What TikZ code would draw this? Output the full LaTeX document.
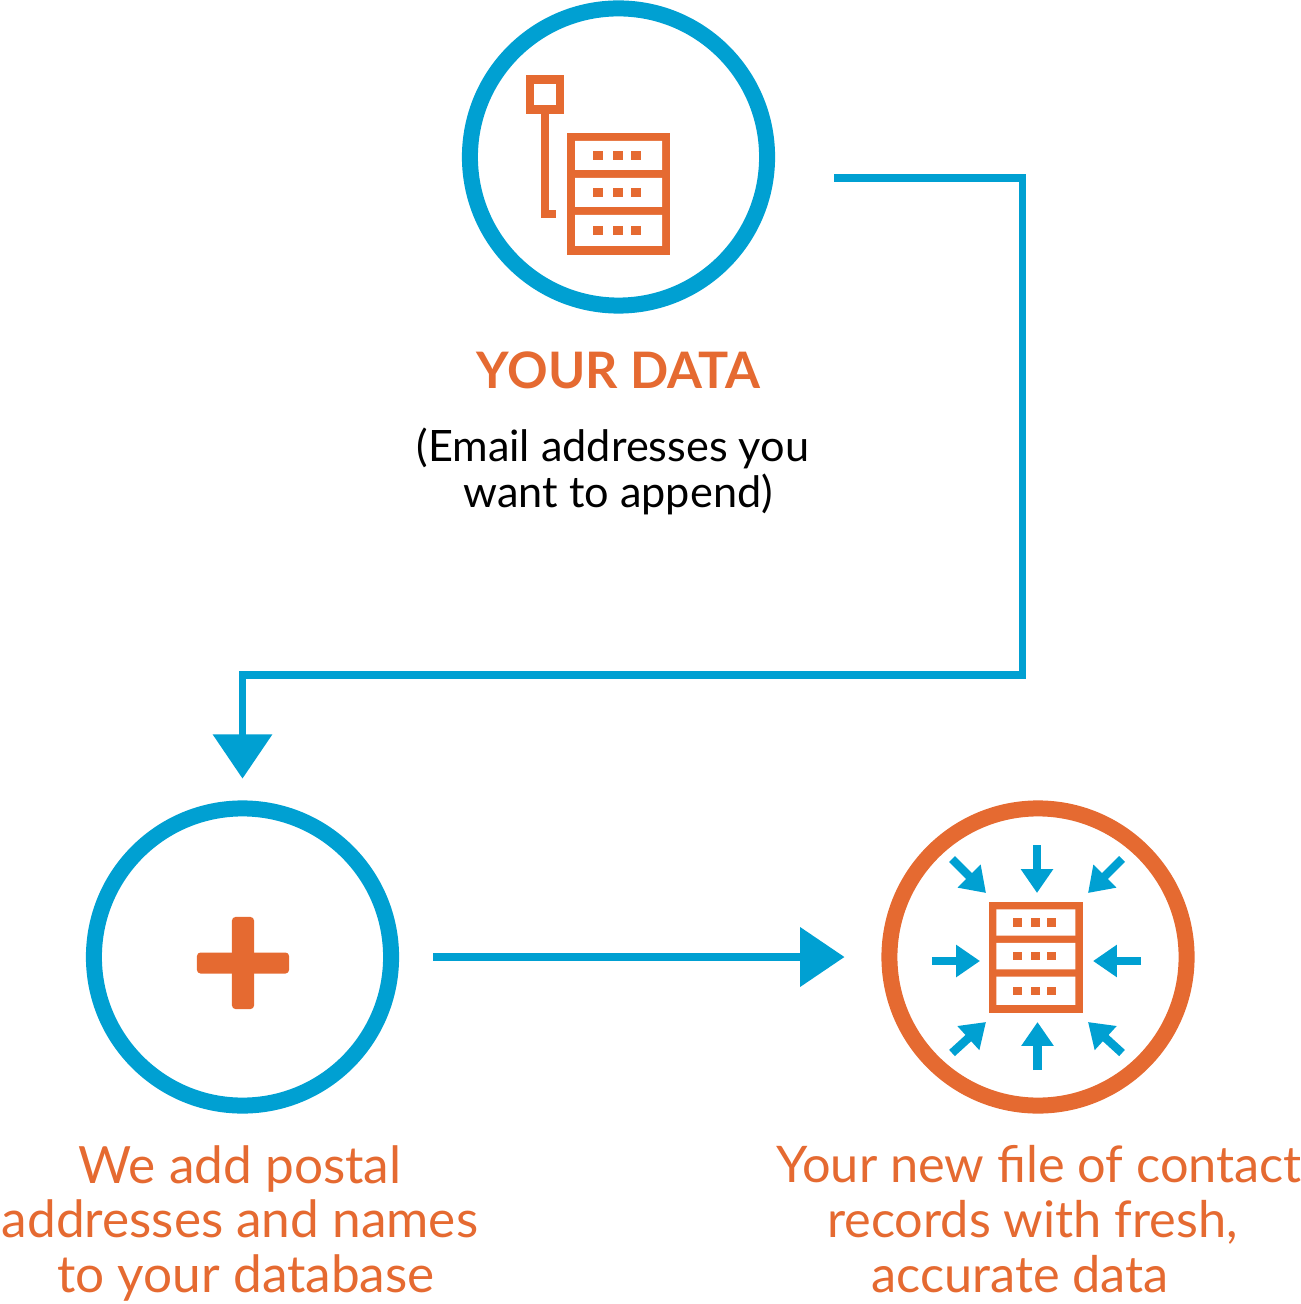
\documentclass[tikz,border=0pt]{standalone}
\usepackage{fontspec}
\setmainfont{Lato}
\usetikzlibrary{arrows.meta,positioning}
\definecolor{darkorange}{HTML}{E56A31}
\definecolor{brightblue}{HTML}{00A0D2}
\tikzset{
  ringblue/.style={circle,draw=brightblue,line width=4.55pt,minimum size=2.97cm,inner sep=0pt},
  ringorange/.style={ringblue,draw=darkorange},
  flow/.style={draw=brightblue,line width=2pt,-{Triangle[length=12.6pt,width=16.5pt]}},
  squeeze/.style={draw=brightblue,line width=2.4pt,-{Triangle[length=6.8pt,width=8.8pt]}},
  headline/.style={text=darkorange,inner sep=0pt,align=center,font=\fontsize{14.35}{15.65}\selectfont},
  plusbar/.style={fill=darkorange,rounded corners=1pt,inner sep=0pt},
  serverrack/.pic={
    \fill[darkorange] (0,0) rectangle (103,122);
    \fill[white] (8,8) rectangle (95,37) (8,45) rectangle (95,74) (8,82) rectangle (95,113);
    \foreach \rowy in {18,55,93}
      \foreach \doty in {26,46,64}
        \fill[darkorange] (\doty,\rowy) rectangle ++(10,9);
  }
}
\begin{document}
\begin{tikzpicture}[x=0.01cm,y=-0.01cm]
  \useasboundingbox (0,0) rectangle (1301,1304);
  % circles
  \node[ringblue] (datacircle) at (618.5,157) {};
  \node[ringblue] (addcircle) at (242.5,957) {};
  \node[ringorange] (resultcircle) at (1038,957) {};
  % key and rack
  \node[draw=darkorange,line width=2.3pt,minimum size=0.3cm,inner sep=0pt] (keyhead) at (545,94.5) {};
  \draw[darkorange,line width=2.3pt] (keyhead.south) -- (545,214) -- (556,214);
  \pic at (567,133) {serverrack};
  % plus
  \node[plusbar,minimum width=0.92cm,minimum height=0.21cm] (plusacross) at (243,963) {};
  \node[plusbar,minimum width=0.22cm,minimum height=0.92cm] (plusdown) at (243,963) {};
  % rack with arrows pointing at it
  \pic[scale=0.91] at (989,902) {serverrack};
  \foreach \tailx/\taily/\tipx/\tipy in {1037/845/1037/893,1037.5/1070/1037.5/1022,932/961/980/961,1141/961/1093/961,952/859/986/893,1122/859/1088/893,952/1053/986/1022,1122/1053/1088/1022}
    \draw[squeeze] (\tailx,\taily) -- (\tipx,\tipy);
  % labels
  \node[headline,below=0.37cm of datacircle,font=\fontsize{14.3}{17}\selectfont\bfseries] (datatitle) {YOUR DATA};
  \node[inner sep=0pt,align=center,font=\fontsize{12.3}{13.1}\selectfont,below=0.38cm of datatitle,xshift=-1.6pt] (datanote) {(Email addresses you\\\hspace*{3pt}want to append)};
  \node[headline,below=0.31cm of addcircle,xshift=-0.7pt,font=\fontsize{14.6}{15.6}\selectfont] (addlabel) {We add postal\\addresses and names\\\hspace*{3.4pt}to your database};
  \node[headline,below=0.31cm of resultcircle,xshift=0.3pt] (resultlabel) {Your new file of contact\\records with fresh,\hspace*{3.7pt}\mbox{}\\accurate data\hspace*{10.8pt}};
  % connectors
  \coordinate (dataout) at (834,178);
  \coordinate (turn) at (1022.5,675);
  \draw[flow,shorten >=6.2pt] (dataout) -| (turn) -| (addcircle.north);
  \draw[flow,shorten <=9.7pt,shorten >=10.5pt] (addcircle.east) -- (resultcircle.west);
\end{tikzpicture}
\end{document}
